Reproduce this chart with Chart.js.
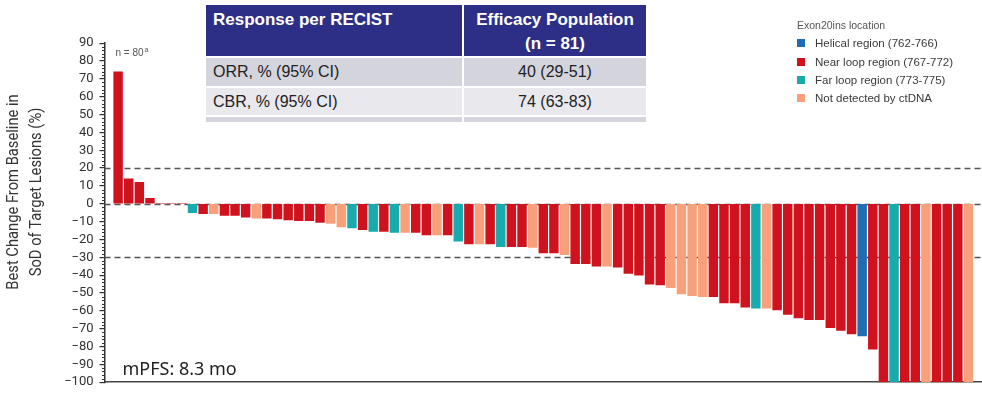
<!DOCTYPE html>
<html>
<head>
<meta charset="utf-8">
<script src="https://cdn.jsdelivr.net/npm/chart.js@4.4.1/dist/chart.umd.min.js"></script>
<style>
  html, body { margin: 0; padding: 0; background: #fff; }
  #wrap { position: relative; width: 982px; height: 396px; overflow: hidden; }
  #chart { position: absolute; left: 0; top: 0; }
  #recist {
    position: absolute; left: 206px; top: 5px; width: 440px; height: 117px; overflow: hidden;
    display: grid; grid-template-columns: 256px 182px; grid-template-rows: 51px 28px 27px 20px;
    column-gap: 2px; row-gap: 2px; background: #fff;
    font-family: "Liberation Sans", Arial, sans-serif;
  }
  #recist .hd { background: #2d2f87; color: #fff; font-weight: bold; font-size: 17px; }
  #recist .hd.c1 { padding: 5px 0 0 7px; line-height: 20px; }
  #recist .hd.c2 { padding-top: 3px; line-height: 24px; text-align: center; }
  #recist .row { display: flex; align-items: center; font-size: 16px; color: #222; }
  #recist .row.c1 { padding-left: 7px; }
  #recist .row.c2 { justify-content: center; }
  #recist .odd { background: #d4d4dc; }
  #recist .even { background: #e8e8ed; }
  #legend {
    position: absolute; left: 797px; top: 16px;
    font-family: "Liberation Sans", Arial, sans-serif;
  }
  #legend .ttl { height: 18.3px; line-height: 18.3px; font-size: 10.5px; color: #555; }
  #legend .it { height: 18.3px; display: flex; align-items: center; font-size: 11.5px; color: #3a3a3a; }
  #legend .sw { width: 8px; height: 8px; margin-right: 10px; flex: none; }
</style>
</head>
<body>
<div id="wrap">
  <canvas id="chart" width="982" height="396"></canvas>
  <div id="recist"></div>
  <div id="legend"></div>
</div>
<script>
// Best % change from baseline in sum of diameters, one entry per patient (sorted waterfall order)
const bestChange = [
  74, 14, 12, 3, 0, 0, 0,
  -5, -5.5, -5.5, -6.5, -6.5, -7.5, -8, -8, -8.5, -9, -9.5, -9.5, -10.5, -11,
  -13, -13.5, -14.5, -15.5, -15.5, -16, -16, -16, -17.5, -17.5, -17.5,
  -21, -22.5, -22.5, -22.5, -24, -24, -24, -24.5, -27.5, -27.5, -28.5,
  -33.5, -33.5, -35, -35, -35.5, -39, -40, -45, -45.5, -47,
  -50.5, -51.5, -52, -52, -55.5, -55.5, -58, -58.5, -58.5, -59.5,
  -62, -64, -65, -65, -69.5, -71, -73, -74, -81.5,
  -100, -100, -100, -100, -100, -100, -100, -100, -100
];

// Exon20ins location per patient: H helical, N near loop, F far loop, X not detected by ctDNA
const insLocation = [
  'N', 'N', 'N', 'N', 'N', 'N', 'N',
  'F', 'N', 'X', 'N', 'N', 'N', 'X', 'N', 'N', 'N', 'N', 'N', 'N', 'X',
  'X', 'F', 'N', 'F', 'N', 'F', 'X', 'N', 'N', 'X', 'N',
  'F', 'N', 'X', 'N', 'F', 'N', 'N', 'X', 'N', 'N', 'X',
  'N', 'N', 'N', 'X', 'N', 'N', 'N', 'N', 'N', 'X',
  'X', 'X', 'X', 'N', 'N', 'N', 'N', 'F', 'X', 'N',
  'N', 'N', 'N', 'N', 'N', 'N', 'N', 'H', 'N',
  'N', 'F', 'N', 'N', 'X', 'N', 'N', 'N', 'X'
];

const locationCodes = ['H', 'N', 'F', 'X'];
const locationLabels = [
  'Helical region (762-766)',
  'Near loop region (767-772)',
  'Far loop region (773-775)',
  'Not detected by ctDNA'
];
const locationColors = ['#1f6db3', '#d0121e', '#18abad', '#f7a07a'];

const legendTitle = 'Exon20ins location';
const yTicks = { min: -100, max: 90, step: 10 };
const refLevels = [20, 0, -30];
const yTitleLines = ['Best Change From Baseline in', 'SoD of Target Lesions (%)'];

const tableHeader = ['Response per RECIST', 'Efficacy Population<br>(n = 81)'];
const tableRows = [
  ['ORR, % (95% CI)', '40 (29-51)'],
  ['CBR, % (95% CI)', '74 (63-83)'],
  ['', '']
];

const nLabel = 'n = 80';
const nSup = 'a';
const pfsLabel = 'mPFS: 8.3 mo';

// ---- response table ----
const tbl = document.getElementById('recist');
tbl.innerHTML =
  `<div class="hd c1">${tableHeader[0]}</div><div class="hd c2">${tableHeader[1]}</div>` +
  tableRows.map((r, i) => {
    const cls = i % 2 === 0 ? 'odd' : 'even';
    return `<div class="row c1 ${cls}">${r[0]}</div><div class="row c2 ${cls}">${r[1]}</div>`;
  }).join('');

// ---- legend ----
const leg = document.getElementById('legend');
leg.innerHTML = `<div class="ttl">${legendTitle}</div>` +
  locationLabels.map((l, i) =>
    `<div class="it"><span class="sw" style="background:${locationColors[i]}"></span>${l}</div>`).join('');

// ---- datasets, one per location group ----
const datasets = locationCodes.map((code, k) => ({
  label: locationLabels[k],
  backgroundColor: locationColors[k],
  borderWidth: 0,
  barThickness: 8.8,
  grouped: false,
  data: bestChange
    .map((v, i) => ({ x: i + 1, y: v, loc: insLocation[i] }))
    .filter(p => p.loc === code)
}));

const refLinePlugin = {
  id: 'refLines',
  beforeDatasetsDraw(chart) {
    const { ctx, chartArea, scales: { y } } = chart;
    ctx.save();
    ctx.strokeStyle = '#555';
    ctx.lineWidth = 1.3;
    ctx.setLineDash([6, 4]);
    refLevels.forEach(v => {
      const py = Math.round(y.getPixelForValue(v)) + 0.5;
      ctx.beginPath();
      ctx.moveTo(chartArea.left, py);
      ctx.lineTo(chartArea.right, py);
      ctx.stroke();
    });
    ctx.restore();
  }
};

const decorPlugin = {
  id: 'decor',
  afterDraw(chart) {
    const { ctx, chartArea, scales: { y } } = chart;
    ctx.save();
    // minor ticks every 2 units
    ctx.strokeStyle = '#333';
    ctx.lineWidth = 1;
    for (let v = yTicks.min; v <= yTicks.max; v += 2) {
      if (v % 10 === 0) continue;
      const py = Math.round(y.getPixelForValue(v)) + 0.5;
      ctx.beginPath();
      ctx.moveTo(chartArea.left - 2.5, py);
      ctx.lineTo(chartArea.left, py);
      ctx.stroke();
    }

    // rotated two-line axis title
    ctx.fillStyle = '#333';
    ctx.font = '16px Roboto, "Liberation Sans", sans-serif';
    ctx.textAlign = 'center';
    ctx.textBaseline = 'middle';
    const cy = 192;
    [14, 37].forEach((cx, i) => {
      ctx.save();
      ctx.translate(cx, cy);
      ctx.rotate(-Math.PI / 2);
      ctx.scale(0.92, 1.05);
      ctx.fillText(yTitleLines[i], 0, 0);
      ctx.restore();
    });

    // sample size note
    ctx.fillStyle = '#555';
    ctx.textAlign = 'left';
    ctx.textBaseline = 'middle';
    ctx.font = '10px "Liberation Sans", Arial, sans-serif';
    const nx = chartArea.left + 11, ny = 53;
    ctx.fillText(nLabel, nx, ny);
    const w = ctx.measureText(nLabel).width;
    ctx.font = '7px "Liberation Sans", Arial, sans-serif';
    ctx.fillText(nSup, nx + w + 1, ny - 3);

    // median PFS note
    ctx.fillStyle = '#222';
    ctx.font = '18px "Noto Sans", sans-serif';
    ctx.textBaseline = 'alphabetic';
    ctx.fillText(pfsLabel, chartArea.left + 18, 375);
    ctx.restore();
  }
};

new Chart(document.getElementById('chart'), {
  type: 'bar',
  data: { datasets },
  options: {
    responsive: false,
    animation: false,
    events: [],
    layout: { padding: { top: 43.2, bottom: 4.3, left: 0, right: 1 } },
    plugins: { legend: { display: false }, tooltip: { enabled: false } },
    scales: {
      x: {
        type: 'linear',
        offset: false,
        min: -0.28,
        max: 82.18,
        ticks: { display: false },
        grid: { display: false, drawTicks: false, offset: false },
        border: { display: true, color: '#444', width: 1.5 },
        afterFit(s) { s.height = 0; }
      },
      y: {
        min: yTicks.min,
        max: yTicks.max,
        ticks: {
          stepSize: yTicks.step,
          autoSkip: false,
          padding: 6,
          color: '#333',
          font: { family: 'Roboto, "Liberation Sans", sans-serif', size: 13 },
          callback: v => String(v).replace('-', '\u2212')
        },
        grid: { drawOnChartArea: false, drawTicks: true, tickLength: 5, color: '#333', lineWidth: 1.2 },
        border: { display: true, color: '#333', width: 1.5 },
        afterFit(s) { s.width = 104.5; }
      }
    }
  },
  plugins: [refLinePlugin, decorPlugin]
});
</script>
</body>
</html>
